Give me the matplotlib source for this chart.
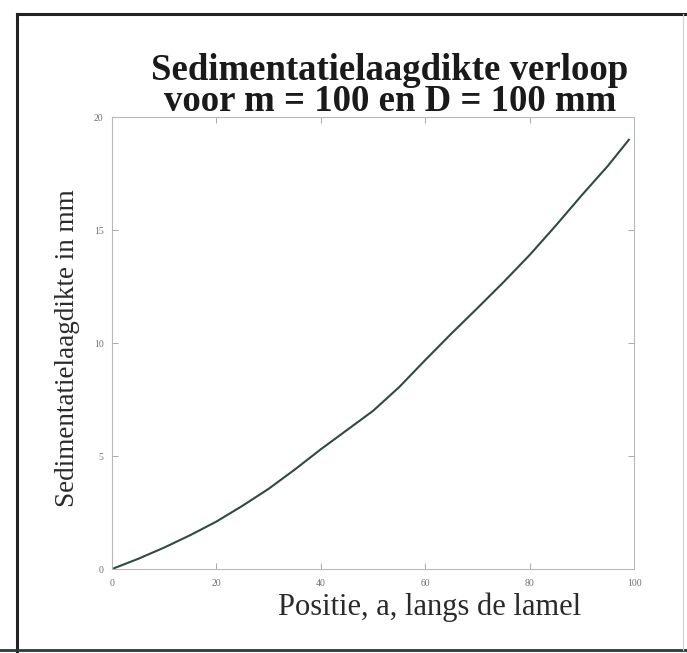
import matplotlib
matplotlib.use("Agg")
import matplotlib.pyplot as plt
from matplotlib.lines import Line2D

# Layer thickness along the lamella
positie = [0, 5, 10, 15, 20, 25, 30, 35, 40, 45, 50, 55, 60, 65, 70, 75, 80, 85, 90, 95, 99]
dikte = [0, 0.45, 0.95, 1.5, 2.1, 2.8, 3.55, 4.4, 5.3, 6.15, 7.0, 8.05, 9.25, 10.42,
         11.55, 12.7, 13.9, 15.2, 16.55, 17.85, 19.0]

x_ticks = [0, 20, 40, 60, 80, 100]
y_ticks = [0, 5, 10, 15, 20]

title = "Sedimentatielaagdikte verloop\nvoor m = 100 en D = 100 mm"
xlabel = "Positie, a, langs de lamel"
ylabel = "Sedimentatielaagdikte in mm"

plt.rcParams["font.family"] = ["Liberation Serif", "DejaVu Serif"]

fig = plt.figure(figsize=(6.87, 6.53), dpi=100)
fig.patch.set_facecolor("white")
ax = fig.add_axes([0.163, 0.1286, 0.760, 0.692])

ax.plot(positie, dikte, color="#2f4a44", linewidth=1.5)

ax.set_xlim(0, 100)
ax.set_ylim(0, 20)
ax.set_xticks(x_ticks)
ax.set_yticks(y_ticks)
ax.tick_params(direction="in", length=4, width=0.6, color="#9a9a9a",
               labelsize=7, labelcolor="#707070", top=True, right=True)
ax.tick_params(axis="x", pad=7)
ax.tick_params(axis="y", pad=6)
for s in ax.spines.values():
    s.set_color("#b8b8b8")
    s.set_linewidth(0.8)

# Axis labels placed in figure coordinates
fig.text(430 / 687, 1 - 607 / 653, xlabel, ha="center", va="center",
         fontsize=22, color="#2a2a2a")
fig.text(68 / 687, 1 - 348 / 653, ylabel, ha="center", va="center",
         rotation=90, fontsize=19.5, color="#2a2a2a")

fig.text(390 / 687, 1 - 86 / 653, title, ha="center", va="center", fontsize=26.5,
         fontweight="bold", color="#1a1a1a", linespacing=0.82)

# Outer frame around the figure
W, H = 687.0, 653.0
frame = [((17 / W, 17 / W), (1 - 14 / H, 1 - 652 / H), 2.2, "#222222"),
         ((17 / W, 1.0), (1 - 14 / H, 1 - 14 / H), 2.2, "#222222"),
         ((0.0, 1.0), (1 - 650 / H, 1 - 650 / H), 2.0, "#2a3a3a"),
         ((683 / W, 683 / W), (1 - 14 / H, 1 - 650 / H), 0.8, "#d0d0d0")]
for xs, ys, lw, c in frame:
    fig.add_artist(Line2D(xs, ys, transform=fig.transFigure, color=c, linewidth=lw))

fig.savefig("out.png", dpi=100, facecolor="white")
